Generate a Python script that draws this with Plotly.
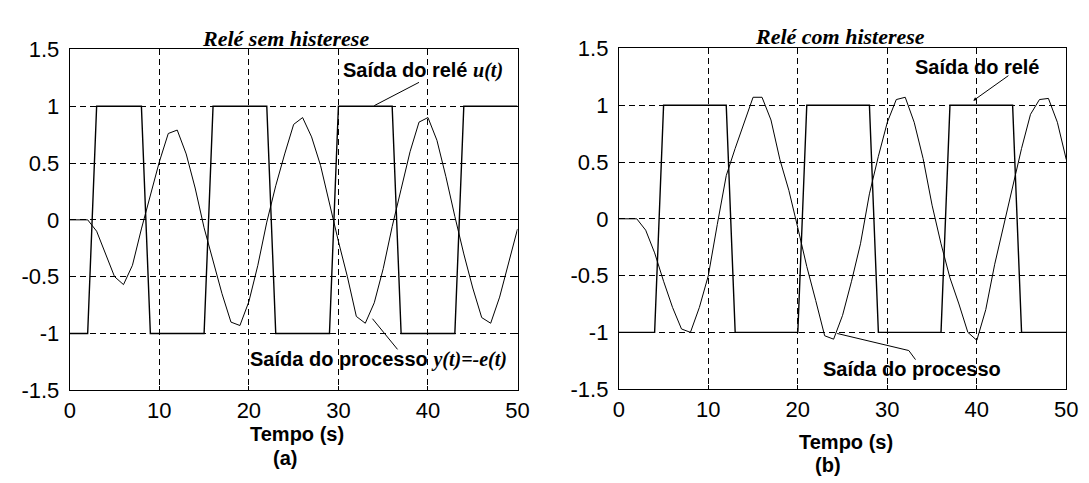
import plotly.graph_objects as go

# ---- data (sampled every 1 s) ----
time_s = list(range(51))

u_sem = [-1, -1, -1, 1, 1, 1, 1, 1, 1, -1,
         -1, -1, -1, -1, -1, -1, 1, 1, 1, 1,
         1, 1, 1, -1, -1, -1, -1, -1, -1, -1,
         1, 1, 1, 1, 1, 1, 1, -1, -1, -1,
         -1, -1, -1, -1, 1, 1, 1, 1, 1, 1, 1]
y_sem = [0, 0, 0, -0.1, -0.3, -0.5, -0.57, -0.4, -0.08, 0.22,
         0.51, 0.76, 0.79, 0.58, 0.28, -0.07, -0.37, -0.65, -0.9, -0.93,
         -0.72, -0.4, -0.02, 0.3, 0.58, 0.84, 0.9, 0.73, 0.48, 0.13,
         -0.19, -0.5, -0.85, -0.91, -0.73, -0.43, -0.06, 0.27, 0.6, 0.86,
         0.9, 0.7, 0.38, 0.03, -0.3, -0.6, -0.86, -0.91, -0.68, -0.38, -0.08]

u_com = [-1, -1, -1, -1, -1, 1, 1, 1, 1, 1,
         1, 1, 1, -1, -1, -1, -1, -1, -1, -1,
         -1, 1, 1, 1, 1, 1, 1, 1, 1, -1,
         -1, -1, -1, -1, -1, -1, -1, 1, 1, 1,
         1, 1, 1, 1, 1, -1, -1, -1, -1, -1, -1]
y_com = [0, 0, 0, -0.1, -0.3, -0.55, -0.78, -0.97, -1.0, -0.78,
         -0.5, -0.05, 0.38, 0.62, 0.85, 1.07, 1.07, 0.87, 0.52, 0.25,
         -0.08, -0.42, -0.72, -1.03, -1.06, -0.85, -0.55, -0.22, 0.22, 0.55,
         0.85, 1.05, 1.07, 0.85, 0.53, 0.12, -0.22, -0.52, -0.75, -1.0,
         -1.07, -0.8, -0.4, -0.07, 0.28, 0.62, 0.92, 1.05, 1.06, 0.85, 0.52]

x_ticks = [0, 10, 20, 30, 40, 50]
y_ticks = [-1.5, -1, -0.5, 0, 0.5, 1, 1.5]
y_tick_text = ["-1.5", "-1", "-0.5", "0", "0.5", "1", "1.5"]

titles = ["Relé sem histerese", "Relé com histerese"]
x_label = "Tempo (s)"
panel_labels = ["(a)", "(b)"]

W, H = 1089, 483
SANS = "Liberation Sans, Arial, sans-serif"
SERIF = "Liberation Serif, Times New Roman, serif"

fig = go.Figure()
fig.add_trace(go.Scatter(x=time_s, y=u_sem, mode="lines", line=dict(color="black", width=1.4),
                         xaxis="x", yaxis="y", hoverinfo="skip"))
fig.add_trace(go.Scatter(x=time_s, y=y_sem, mode="lines", line=dict(color="black", width=1),
                         xaxis="x", yaxis="y", hoverinfo="skip"))
fig.add_trace(go.Scatter(x=time_s, y=u_com, mode="lines", line=dict(color="black", width=1.4),
                         xaxis="x2", yaxis="y2", hoverinfo="skip"))
fig.add_trace(go.Scatter(x=time_s, y=y_com, mode="lines", line=dict(color="black", width=1),
                         xaxis="x2", yaxis="y2", hoverinfo="skip"))

common_axis = dict(showgrid=True, gridcolor="black", gridwidth=1, griddash="6px,4px",
                   showline=True, linecolor="black", linewidth=1, mirror="ticks",
                   ticks="inside", ticklen=4, tickcolor="black", zeroline=False,
                   tickfont=dict(family=SANS, size=22, color="black"), fixedrange=True)

def px_x(p):
    return p / W

def px_y(p):
    return 1 - p / H

fig.update_layout(
    width=W, height=H, margin=dict(l=0, r=0, t=0, b=0),
    paper_bgcolor="white", plot_bgcolor="white", showlegend=False,
    xaxis=dict(domain=[px_x(56.7), px_x(512)], range=[0, 50], tickvals=x_ticks,
               anchor="y", **common_axis),
    yaxis=dict(domain=[px_y(390.5), px_y(31)], range=[-1.5, 1.5], tickvals=y_ticks,
               ticktext=y_tick_text, anchor="x", ticklabelstandoff=5, **common_axis),
    xaxis2=dict(domain=[px_x(615), px_x(1070)], range=[0, 50], tickvals=x_ticks,
                anchor="y2", **common_axis),
    yaxis2=dict(domain=[px_y(389.3), px_y(30)], range=[-1.5, 1.5], tickvals=y_ticks,
                ticktext=y_tick_text, anchor="x2", ticklabelstandoff=5, **common_axis),
)

ann = []
# titles
ann.append(dict(text=f"<b><i>{titles[0]}</i></b>", x=px_x(276), y=px_y(19), xref="paper", yref="paper",
                showarrow=False, font=dict(family=SERIF, size=22, color="black"),
                xanchor="center", yanchor="middle"))
ann.append(dict(text=f"<b><i>{titles[1]}</i></b>", x=px_x(840), y=px_y(17), xref="paper", yref="paper",
                showarrow=False, font=dict(family=SERIF, size=22, color="black"),
                xanchor="center", yanchor="middle"))
# x labels and panel labels
for cx, cy, t in [(288, 437, x_label), (846, 445, x_label), (276, 462, panel_labels[0]), (828, 469, panel_labels[1])]:
    ann.append(dict(text=f"<b>{t}</b>", x=px_x(cx), y=px_y(cy), xref="paper", yref="paper",
                    showarrow=False, font=dict(family=SANS, size=20, color="black"),
                    xanchor="center", yanchor="middle"))

it = lambda s: f'<span style="font-family:{SERIF}"><b><i>{s}</i></b></span>'
# left annotations
ann.append(dict(text="<b>Saída do relé </b>" + it("u(t)"), x=30.3, y=1.31, xref="x", yref="y",
                showarrow=False, xanchor="left", yanchor="middle",
                font=dict(family=SANS, size=20, color="black")))
ann.append(dict(text="<b>Saída do processo </b>" + it("y(t)=-e(t)"), x=19.9, y=-1.23, xref="x", yref="y",
                showarrow=False, xanchor="left", yanchor="middle",
                font=dict(family=SANS, size=20, color="black")))
# right annotations
ann.append(dict(text="<b>Saída do relé</b>", x=32.9, y=1.34, xref="x2", yref="y2",
                showarrow=False, xanchor="left", yanchor="middle",
                font=dict(family=SANS, size=20, color="black")))
ann.append(dict(text="<b>Saída do processo</b>", x=22.6, y=-1.32, xref="x2", yref="y2",
                showarrow=False, xanchor="left", yanchor="middle",
                font=dict(family=SANS, size=20, color="black")))
ann.append(dict(text="", x=39.6, y=1.04, ax=43.7, ay=1.27, xref="x2", yref="y2", axref="x2", ayref="y2",
                showarrow=True, arrowhead=2, arrowsize=0.7, arrowwidth=1, arrowcolor="black"))
fig.update_layout(annotations=ann)

shapes = [
    dict(type="line", xref="x", yref="y", x0=39.0, y0=1.21, x1=34.0, y1=1.005,
         line=dict(color="black", width=1)),
    dict(type="line", xref="x", yref="y", x0=33.8, y0=-0.87, x1=36.6, y1=-1.14,
         line=dict(color="black", width=1)),
    dict(type="path", xref="x2", yref="y2", path="M 24.4 -1.01 L 32.4 -1.16 L 33.15 -1.24",
         line=dict(color="black", width=1)),
]
fig.update_layout(shapes=shapes)

fig.write_html("out.html")
